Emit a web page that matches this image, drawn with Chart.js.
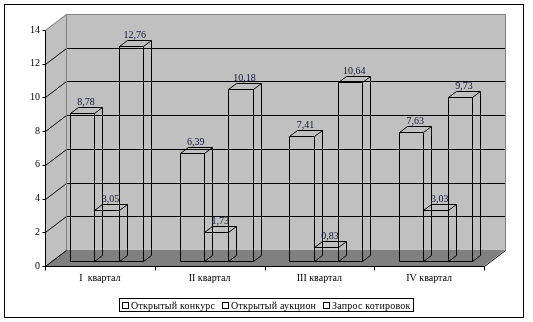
<!DOCTYPE html>
<html lang="ru">

<head>
  <meta charset="UTF-8" />
  <title>Закупки по кварталам</title>
  <style>
    body {
      margin: 0;
      background-color: #ffffff;
    }

    .wrap {
      width: 533px;
      height: 322px;
    }
  </style>
  <script src="https://cdn.jsdelivr.net/npm/chart.js"></script>
</head>

<body>
  <div class="wrap">
    <canvas id="procChart" width="533" height="322"></canvas>
  </div>

  <script>
    // data
    const quarters = ['I  квартал', 'II квартал', 'III квартал', 'IV квартал'];
    const seriesNames = ['Открытый конкурс', 'Открытый аукцион', 'Запрос котировок'];
    const openTender = [8.78, 6.39, 7.41, 7.63];
    const openAuction = [3.05, 1.73, 0.83, 3.03];
    const quoteRequest = [12.76, 10.18, 10.64, 9.73];
    const yTicks = [0, 2, 4, 6, 8, 10, 12, 14];

    const FONT = 'Liberation Serif, Times New Roman, serif';
    const DEPTH = { x: 21, y: -16 };   // wall depth in px
    const BAR_FRONT = 0.31, BAR_BACK = 0.69;

    const fmt = v => v.toFixed(2).replace('.', ',');
    const px = v => Math.round(v) + 0.5;

    function line(ctx, pts, color) {
      ctx.beginPath();
      ctx.strokeStyle = color;
      ctx.lineWidth = 1;
      pts.forEach((p, i) => i ? ctx.lineTo(px(p[0]), px(p[1])) : ctx.moveTo(px(p[0]), px(p[1])));
      ctx.stroke();
    }

    // back wall, side wall, floor and gridlines
    const wallsPlugin = {
      id: 'walls',
      beforeDraw(chart) {
        const ctx = chart.ctx;
        ctx.save();
        ctx.fillStyle = '#fff';
        ctx.fillRect(0, 0, chart.width, chart.height);
        ctx.strokeStyle = '#000';
        ctx.strokeRect(4.5, 4.5, 519, 313);
        ctx.restore();
      },
      beforeDatasetsDraw(chart) {
        const ctx = chart.ctx;
        const { left: L, right: R, top: T, bottom: B } = chart.chartArea;
        const dx = DEPTH.x, dy = DEPTH.y;
        const y = chart.scales.y;
        ctx.save();
        ctx.fillStyle = '#c0c0c0';
        ctx.beginPath();
        ctx.moveTo(L, T); ctx.lineTo(L + dx, T + dy); ctx.lineTo(L + dx, B + dy); ctx.lineTo(L, B);
        ctx.closePath(); ctx.fill();
        ctx.fillRect(L + dx, T + dy, R - L, B - T);
        ctx.fillStyle = '#808080';
        ctx.beginPath();
        ctx.moveTo(L, B); ctx.lineTo(R, B); ctx.lineTo(R + dx, B + dy); ctx.lineTo(L + dx, B + dy);
        ctx.closePath(); ctx.fill();

        yTicks.forEach(v => {
          const gy = y.getPixelForValue(v);
          if (v === 0) return;
          const col = v === 14 ? '#808080' : '#000';
          line(ctx, [[L, gy], [L + dx, gy + dy], [R + dx, gy + dy]], col);
        });
        line(ctx, [[L + dx, T + dy], [L + dx, B + dy]], '#808080');
        line(ctx, [[R + dx, T + dy], [R + dx, B + dy]], '#808080');
        line(ctx, [[L, B], [L + dx, B + dy]], '#000');
        line(ctx, [[R, B], [R + dx, B + dy]], '#000');

        // axes
        line(ctx, [[L, T], [L, B + 4]], '#000');
        line(ctx, [[L, B], [R, B]], '#000');
        yTicks.forEach(v => {
          const gy = y.getPixelForValue(v);
          line(ctx, [[L - 3, gy], [L, gy]], '#000');
        });
        const step = (R - L) / quarters.length;
        for (let i = 1; i <= quarters.length; i++) {
          line(ctx, [[L + step * i, B], [L + step * i, B + 4]], '#000');
        }
        ctx.restore();
      },
      afterDatasetsDraw(chart) {
        const ctx = chart.ctx;
        const fx = DEPTH.x * BAR_FRONT, fy = DEPTH.y * BAR_FRONT;
        const bx = DEPTH.x * (BAR_BACK - BAR_FRONT), by = DEPTH.y * (BAR_BACK - BAR_FRONT);
        ctx.save();
        chart.data.datasets.forEach((ds, di) => {
          chart.getDatasetMeta(di).data.forEach((el, j) => {
            const p = el.getProps(['x', 'y', 'base', 'width'], true);
            const l = p.x - p.width / 2 + fx, r = p.x + p.width / 2 + fx;
            const t = p.y + fy, b = p.base + fy;
            // wireframe box: front, top, right side
            line(ctx, [[l, t], [r, t], [r, b], [l, b], [l, t]], '#000');
            line(ctx, [[l, t], [l + bx, t + by], [r + bx, t + by], [r, t]], '#000');
            line(ctx, [[r + bx, t + by], [r + bx, b + by], [r, b]], '#000');

            ctx.fillStyle = '#10103a';
            ctx.font = '10px ' + FONT;
            ctx.textAlign = 'center';
            ctx.textBaseline = 'alphabetic';
            ctx.fillText(fmt(ds.data[j]), (l + r) / 2 + bx / 2, t + by - 2);
          });
        });
        ctx.restore();
      },
      afterDraw(chart) {
        // legend with a frame
        const ctx = chart.ctx;
        ctx.save();
        ctx.strokeStyle = '#000';
        ctx.lineWidth = 1;
        ctx.strokeRect(119.5, 298.5, 294, 13);
        ctx.font = '10px ' + FONT;
        ctx.letterSpacing = '0.2px';
        ctx.fillStyle = '#000';
        ctx.textBaseline = 'alphabetic';
        ctx.textAlign = 'left';
        const starts = [122, 222, 323];
        seriesNames.forEach((name, i) => {
          ctx.strokeRect(starts[i] + 0.5, 302.5, 6, 6);
          ctx.fillText(name, starts[i] + 9, 309);
        });
        ctx.restore();
      }
    };

    const ctx = document.getElementById('procChart').getContext('2d');
    new Chart(ctx, {
      type: 'bar',
      data: {
        labels: quarters,
        datasets: [
          { label: seriesNames[0], data: openTender },
          { label: seriesNames[1], data: openAuction },
          { label: seriesNames[2], data: quoteRequest }
        ].map(d => Object.assign(d, {
          backgroundColor: 'rgba(0,0,0,0)',
          borderWidth: 0,
          categoryPercentage: 0.664,
          barPercentage: 1
        }))
      },
      options: {
        responsive: false,
        animation: false,
        layout: { padding: { left: 0, top: 30, right: 49, bottom: 26 } },
        plugins: { legend: { display: false }, tooltip: { enabled: false } },
        scales: {
          x: {
            grid: { display: false, drawTicks: false },
            border: { display: false },
            ticks: { color: '#000', font: { family: FONT, size: 10 }, padding: 6 },
            afterFit: s => { s.height = 30; }
          },
          y: {
            min: 0,
            max: 14,
            grid: { display: false, drawTicks: false },
            border: { display: false },
            ticks: { stepSize: 2, color: '#000', font: { family: FONT, size: 10 }, padding: 5 },
            afterFit: s => { s.width = 45; }
          }
        }
      },
      plugins: [wallsPlugin]
    });
  </script>
</body>

</html>
